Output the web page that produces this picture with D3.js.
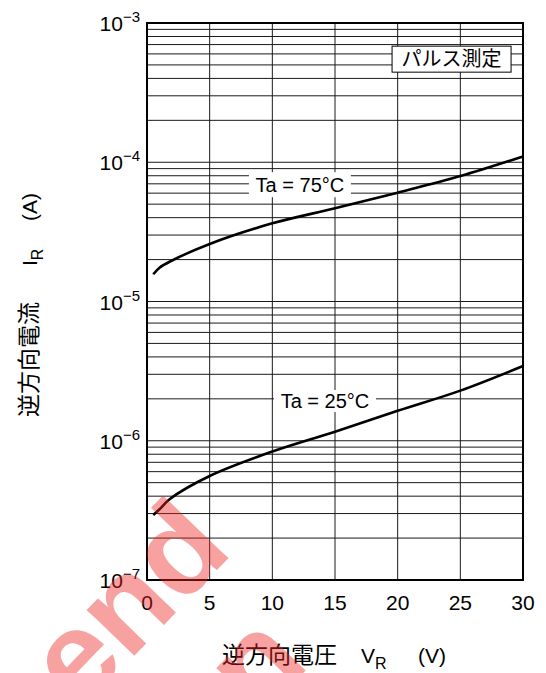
<!DOCTYPE html>
<html lang="ja">
<head>
    <meta charset="UTF-8">
    <title>IR - VR</title>
    <script src="https://cdnjs.cloudflare.com/ajax/libs/d3/7.8.5/d3.min.js"></script>
    <style>
        body {
            margin: 0;
            background: #fff;
        }
        svg {
            display: block;
            font-family: "Liberation Sans", Arial, "Noto Sans CJK JP", sans-serif;
        }
        .jp {
            font-family: "Noto Sans CJK JP", sans-serif;
        }
    </style>
</head>
<body>
    <svg id="chart" width="546" height="673"></svg>

    <script>
        // reverse voltage (V)
        const vr = [0.5, 1.0, 1.8, 5, 10, 15, 20, 25, 30];
        // reverse current (A)
        const ir75 = [1.57e-5, 1.75e-5, 1.93e-5, 2.59e-5, 3.64e-5, 4.67e-5, 6.05e-5, 7.96e-5, 1.10e-4];
        const ir25 = [2.93e-7, 3.22e-7, 3.80e-7, 5.58e-7, 8.36e-7, 1.16e-6, 1.64e-6, 2.29e-6, 3.44e-6];
        const xTicks = [0, 5, 10, 15, 20, 25, 30];
        const yExps = [-3, -4, -5, -6, -7];
        const series = [
            { name: "Ta = 75°C", values: ir75, label: [12.2, 6.9e-5], box: [102, 25] },
            { name: "Ta = 25°C", values: ir25, label: [14.2, 1.93e-6], box: [102, 22] }
        ];

        const svg = d3.select("#chart");
        const pL = 147, pR = 523, pT = 23, pB = 580;

        const x = d3.scaleLinear().domain([0, 30]).range([pL, pR]);
        const y = d3.scaleLog().domain([1e-7, 1e-3]).range([pB, pT]);

        // grid
        const grid = svg.append("g").attr("stroke", "#1a1a1a").attr("stroke-width", 1);
        const minor = [];
        for (let e = -7; e < -3; e++) {
            for (let m = 1; m < 10; m++) minor.push(m * Math.pow(10, e));
        }
        grid.selectAll("line.h")
            .data(minor)
            .join("line")
            .attr("class", "h")
            .attr("x1", pL).attr("x2", pR)
            .attr("y1", d => y(d)).attr("y2", d => y(d));
        grid.selectAll("line.v")
            .data(xTicks)
            .join("line")
            .attr("class", "v")
            .attr("x1", d => x(d)).attr("x2", d => x(d))
            .attr("y1", pT).attr("y2", pB);

        svg.append("rect")
            .attr("x", pL).attr("y", pT)
            .attr("width", pR - pL).attr("height", pB - pT)
            .attr("fill", "none").attr("stroke", "#000").attr("stroke-width", 2);

        // curves
        const line = d3.line()
            .x((d, i) => x(vr[i]))
            .y(d => y(d))
            .curve(d3.curveCatmullRom.alpha(0.5));

        svg.append("g")
            .selectAll("path")
            .data(series)
            .join("path")
            .attr("d", d => line(d.values))
            .attr("fill", "none")
            .attr("stroke", "#000")
            .attr("stroke-width", 2.6);

        // curve labels
        series.forEach(s => {
            const cx = x(s.label[0]), cy = y(s.label[1]);
            svg.append("rect")
                .attr("x", cx - s.box[0] / 2).attr("y", cy - s.box[1] / 2)
                .attr("width", s.box[0]).attr("height", s.box[1])
                .attr("fill", "#fff");
            svg.append("text")
                .attr("x", cx).attr("y", cy)
                .attr("dy", "0.36em")
                .attr("text-anchor", "middle")
                .attr("font-size", 20)
                .text(s.name);
        });

        // pulse measurement box
        const bx = x(24.3), by = y(5.5e-4);
        svg.append("rect")
            .attr("x", bx - 59.5).attr("y", by - 13)
            .attr("width", 119).attr("height", 26)
            .attr("fill", "#fff").attr("stroke", "#000").attr("stroke-width", 1);
        svg.append("text")
            .attr("class", "jp")
            .attr("x", bx).attr("y", by)
            .attr("dy", "0.36em")
            .attr("text-anchor", "middle")
            .attr("font-size", 20)
            .text("パルス測定");

        // x tick labels
        svg.append("g")
            .selectAll("text")
            .data(xTicks)
            .join("text")
            .attr("x", d => x(d))
            .attr("y", 610)
            .attr("text-anchor", "middle")
            .attr("font-size", 21)
            .text(d => d);

        // y tick labels 10^n
        const yl = svg.append("g")
            .selectAll("text")
            .data(yExps)
            .join("text")
            .attr("x", 140)
            .attr("y", d => y(Math.pow(10, d)) + 8)
            .attr("text-anchor", "end")
            .attr("font-size", 21);
        yl.append("tspan").text("10");
        yl.append("tspan")
            .attr("dy", -9)
            .attr("font-size", 15)
            .text(d => "−" + Math.abs(d));

        // axis titles
        const xt = svg.append("text")
            .attr("x", 222).attr("y", 663)
            .attr("font-size", 21);
        xt.append("tspan").attr("class", "jp").attr("font-size", 23).text("逆方向電圧");
        xt.append("tspan").attr("x", 361).text("V");
        xt.append("tspan").attr("dy", 6).attr("font-size", 16).text("R");
        xt.append("tspan").attr("x", 418).attr("dy", -6).text("(V)");

        const yt = svg.append("text")
            .attr("transform", "translate(37,417) rotate(-90)")
            .attr("font-size", 21);
        yt.append("tspan").attr("class", "jp").attr("font-size", 23).text("逆方向電流");
        yt.append("tspan").attr("x", 151).text("I");
        yt.append("tspan").attr("dy", 6).attr("font-size", 16).text("R");
        yt.append("tspan").attr("x", 196).attr("dy", -6).text("(A)");

        // watermark
        const wm = svg.append("g")
            .attr("fill", "#ee2222")
            .attr("opacity", 0.42)
            .attr("font-weight", "bold")
            .attr("font-size", 125);
        wm.append("text")
            .attr("transform", "translate(80,712) rotate(-46)")
            .text("end");
        wm.append("text")
            .attr("transform", "translate(205,775) rotate(-46)")
            .text("un");
    </script>
</body>
</html>
